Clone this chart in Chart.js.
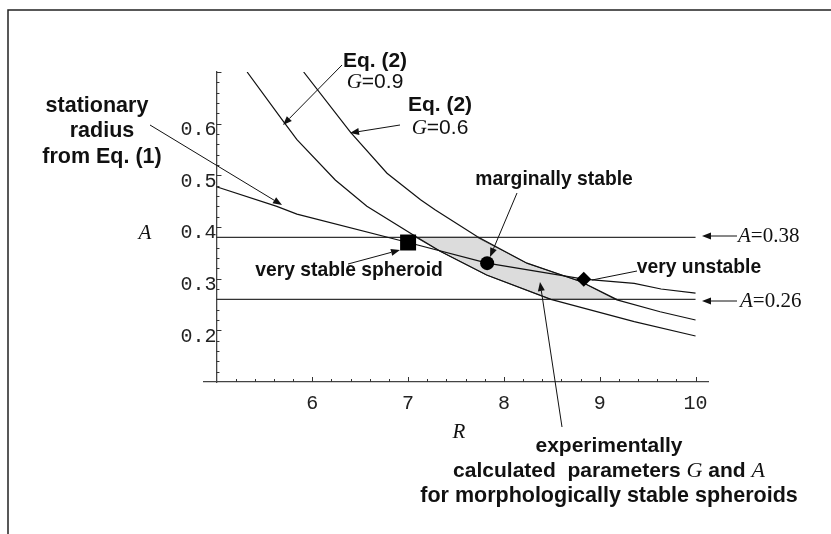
<!DOCTYPE html>
<html>
<head>
<meta charset="utf-8">
<script src="https://cdn.jsdelivr.net/npm/chart.js@4.4.0/dist/chart.umd.min.js"></script>
<style>
  html, body { margin: 0; padding: 0; background: #fff; }
</style>
</head>
<body>
<canvas id="chart" width="831" height="534"></canvas>
<script>
// Stability diagram: A vs R, curves from Eq. (1) and Eq. (2)

// tick labels
const xTicks = [6, 7, 8, 9, 10];
const yTicks = [0.2, 0.3, 0.4, 0.5, 0.6];

// Eq. (2), G = 0.9
const g09R = [5.32, 5.70, 5.84, 6.24, 6.57, 7.08, 7.34, 7.82, 8.49, 9.36, 10.0];
const g09A = [0.70, 0.604, 0.569, 0.491, 0.440, 0.3815, 0.3525, 0.307, 0.26, 0.217, 0.189];

// Eq. (2), G = 0.6
const g06R = [5.91, 6.40, 6.78, 7.13, 7.285, 7.72, 8.24, 8.80, 9.18, 9.63, 10.0];
const g06A = [0.70, 0.583, 0.504, 0.4526, 0.433, 0.3815, 0.330, 0.2945, 0.259, 0.236, 0.220];

// stationary radius from Eq. (1)
const statR = [5.0, 5.63, 5.84, 7.0, 7.825, 8.833, 9.36, 9.64, 10.0];
const statA = [0.478, 0.440, 0.425, 0.370, 0.330, 0.299, 0.291, 0.280, 0.272];

// limits of A
const aLimits = [0.38, 0.26];
const aLineR = [5.0, 10.0];

// shaded region (experimentally calculated parameters)
const zoneTopR = [7.08, 7.72, 8.24, 8.80, 9.18];
const zoneTopA = [0.38, 0.38, 0.330, 0.2945, 0.26];
const zoneLowR = [7.08, 7.34, 7.82, 8.49, 9.18];
const zoneLowA = [0.38, 0.3525, 0.307, 0.26, 0.26];

// marked spheroids
const stableR = [7.0],   stableA = [0.370];
const marginR = [7.825], marginA = [0.330];
const unstR = [8.833],   unstA = [0.299];

function pts(xs, ys) {
  return xs.map((x, i) => ({ x: x, y: ys[i] }));
}

const INK = '#111';
const SANS_B = (s) => 'bold ' + s + 'px "Liberation Sans", Arial, sans-serif';
const SANS = (s) => s + 'px "Liberation Sans", Arial, sans-serif';
const SERIF_I = (s) => 'italic ' + s + 'px "Liberation Serif", "Times New Roman", serif';
const SERIF = (s) => s + 'px "Liberation Serif", "Times New Roman", serif';

// text labels, placed in canvas pixels
const texts = [
  { x: 375, y: 61, runs: [['Eq. (2)', SANS_B(21)]] },
  { x: 375, y: 82, runs: [['G', SERIF_I(21)], ['=0.9', SANS(21)]] },
  { x: 440, y: 105, runs: [['Eq. (2)', SANS_B(21)]] },
  { x: 440, y: 128, runs: [['G', SERIF_I(21)], ['=0.6', SANS(21)]] },
  { x: 97, y: 106, runs: [['stationary', SANS_B(21.5)]] },
  { x: 102, y: 131, runs: [['radius', SANS_B(21.5)]] },
  { x: 102, y: 157, runs: [['from Eq. (1)', SANS_B(21.5)]] },
  { x: 554, y: 180, runs: [['marginally stable', SANS_B(19.3)]] },
  { x: 349, y: 271, runs: [['very stable spheroid', SANS_B(19.3)]] },
  { x: 699, y: 268, runs: [['very unstable', SANS_B(19.3)]] },
  { x: 609, y: 446, runs: [['experimentally', SANS_B(21)]] },
  { x: 609, y: 471, runs: [['calculated  parameters ', SANS_B(21)], ['G', SERIF_I(22)], [' and ', SANS_B(21)], ['A', SERIF_I(22)]] },
  { x: 609, y: 496, runs: [['for morphologically stable spheroids', SANS_B(21.5)]] },
  { x: 738, y: 236, align: 'left', runs: [['A', SERIF_I(21)], ['=0.38', SERIF(21)]] },
  { x: 740, y: 301, align: 'left', runs: [['A', SERIF_I(21)], ['=0.26', SERIF(21)]] },
  { x: 145, y: 233, runs: [['A', SERIF_I(21)]] },
  { x: 459, y: 432, runs: [['R', SERIF_I(21)]] }
];

// pointer arrows [x1, y1, x2, y2, head]
const arrows = [
  [342, 65, 283, 125, true],
  [400, 125, 350, 133, true],
  [150, 125, 282, 205, true],
  [348, 264, 400, 250, true],
  [517, 193, 490, 257, true],
  [637, 271, 592, 280, false],
  [562, 427, 540, 282, true],
  [737, 236, 702, 236, true],
  [737, 301, 702, 301, true]
];

const decor = {
  id: 'decor',
  beforeDraw(chart) {
    const ctx = chart.ctx;
    ctx.save();
    ctx.fillStyle = '#fff';
    ctx.fillRect(0, 0, chart.width, chart.height);
    ctx.strokeStyle = '#222';
    ctx.lineWidth = 1.5;
    ctx.beginPath();
    ctx.moveTo(8, chart.height);
    ctx.lineTo(8, 10);
    ctx.lineTo(chart.width, 10);
    ctx.stroke();
    ctx.restore();
  },
  afterDraw(chart) {
    const ctx = chart.ctx;
    const xs = chart.scales.x, ys = chart.scales.y;
    ctx.save();
    // inward tick marks
    ctx.strokeStyle = '#333';
    ctx.lineWidth = 1;
    const x0 = xs.getPixelForValue(5);
    const y0 = ys.getPixelForValue(0.1);
    ctx.beginPath();
    for (let i = 1; i <= 25; i++) {
      const v = 5 + i * 0.2;
      const px = Math.round(xs.getPixelForValue(v)) + 0.5;
      const len = (i % 5 === 0) ? 5 : 3;
      ctx.moveTo(px, y0);
      ctx.lineTo(px, y0 - len);
    }
    for (let i = 1; i <= 30; i++) {
      const v = 0.1 + i * 0.02;
      const py = Math.round(ys.getPixelForValue(v)) + 0.5;
      const len = (i % 5 === 0) ? 5 : 3;
      ctx.moveTo(x0, py);
      ctx.lineTo(x0 + len, py);
    }
    ctx.stroke();

    // arrows
    ctx.strokeStyle = INK;
    ctx.fillStyle = INK;
    ctx.lineWidth = 1;
    arrows.forEach(a => {
      const [x1, y1, x2, y2, head] = a;
      const ang = Math.atan2(y2 - y1, x2 - x1);
      const hl = 9, hw = 3.5;
      const bx = x2 - hl * Math.cos(ang), by = y2 - hl * Math.sin(ang);
      ctx.beginPath();
      ctx.moveTo(x1, y1);
      ctx.lineTo(head ? bx : x2, head ? by : y2);
      ctx.stroke();
      if (head) {
        ctx.beginPath();
        ctx.moveTo(x2, y2);
        ctx.lineTo(bx + hw * Math.sin(ang), by - hw * Math.cos(ang));
        ctx.lineTo(bx - hw * Math.sin(ang), by + hw * Math.cos(ang));
        ctx.closePath();
        ctx.fill();
      }
    });

    // texts
    ctx.textBaseline = 'middle';
    ctx.textAlign = 'left';
    texts.forEach(t => {
      let w = 0;
      t.runs.forEach(r => { ctx.font = r[1]; w += ctx.measureText(r[0]).width; });
      let x = t.align === 'left' ? t.x : t.x - w / 2;
      t.runs.forEach(r => {
        ctx.font = r[1];
        ctx.fillText(r[0], x, t.y);
        x += ctx.measureText(r[0]).width;
      });
    });
    ctx.restore();
  }
};

const curve = (data) => ({
  data: data,
  borderColor: INK,
  borderWidth: 1.2,
  pointRadius: 0,
  tension: 0,
  fill: false
});

const marker = (data, style, r) => ({
  data: data,
  showLine: false,
  pointStyle: style,
  pointRadius: r,
  pointBackgroundColor: '#000',
  pointBorderColor: '#000',
  pointBorderWidth: 0
});

new Chart(document.getElementById('chart'), {
  type: 'line',
  data: {
    datasets: [
      marker(pts(stableR, stableA), 'rect', 11.3),
      marker(pts(marginR, marginA), 'circle', 7),
      marker(pts(unstR, unstA), 'rectRot', 7.5),
      curve(pts(statR, statA)),
      curve(pts(g09R, g09A)),
      curve(pts(g06R, g06A)),
      Object.assign(curve(pts(aLineR, [aLimits[0], aLimits[0]])), { borderColor: '#333', borderWidth: 1.4 }),
      Object.assign(curve(pts(aLineR, [aLimits[1], aLimits[1]])), { borderColor: '#333', borderWidth: 1.4 }),
      Object.assign(curve(pts(zoneTopR, zoneTopA)), { borderColor: '#555', borderWidth: 1, fill: '+1', backgroundColor: '#dcdcdc' }),
      Object.assign(curve(pts(zoneLowR, zoneLowA)), { borderColor: '#555', borderWidth: 1 })
    ]
  },
  options: {
    responsive: false,
    animation: false,
    events: [],
    layout: { padding: { left: 204, right: 123, top: 72, bottom: 152 } },
    plugins: {
      legend: { display: false },
      tooltip: { enabled: false },
      filler: { drawTime: 'beforeDatasetsDraw' }
    },
    scales: {
      x: {
        type: 'linear',
        min: 4.87,
        max: 10.13,
        position: { y: 0.1 },
        grid: { display: false, drawTicks: false },
        border: { display: true, color: '#444', width: 1.3 },
        afterBuildTicks: s => { s.ticks = xTicks.map(v => ({ value: v })); },
        ticks: {
          autoSkip: false,
          maxRotation: 0,
          padding: 10,
          color: '#222',
          font: { family: '"Liberation Mono", "Courier New", monospace', size: 20 },
          callback: v => String(v)
        }
      },
      y: {
        type: 'linear',
        min: 0.1,
        max: 0.7,
        position: { x: 5 },
        grid: { display: false, drawTicks: false },
        border: { display: true, color: '#444', width: 1.3 },
        afterBuildTicks: s => { s.ticks = yTicks.map(v => ({ value: v })); },
        ticks: {
          autoSkip: false,
          padding: 2,
          labelOffset: 6,
          color: '#222',
          font: { family: '"Liberation Mono", "Courier New", monospace', size: 20 },
          callback: v => v.toFixed(1)
        }
      }
    }
  },
  plugins: [decor]
});
</script>
</body>
</html>
